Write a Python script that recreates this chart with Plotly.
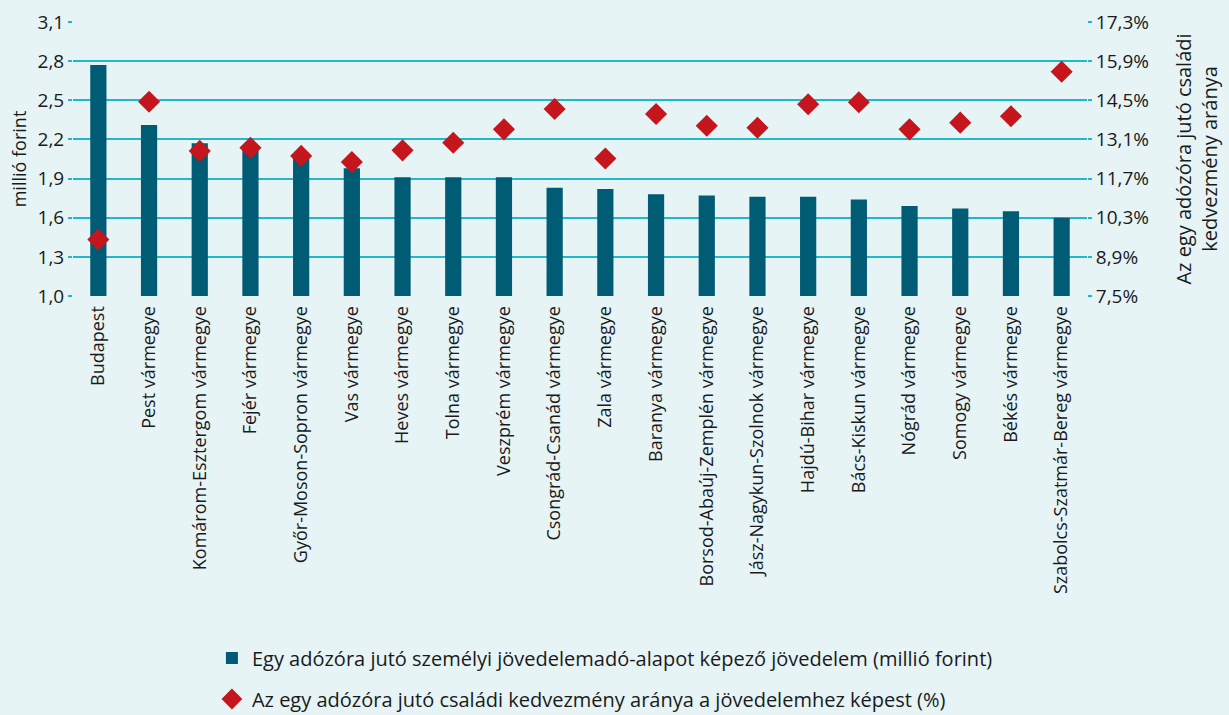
import plotly.graph_objects as go

categories = ["Budapest", "Pest vármegye", "Komárom-Esztergom vármegye", "Fejér vármegye",
              "Győr-Moson-Sopron vármegye", "Vas vármegye", "Heves vármegye", "Tolna vármegye",
              "Veszprém vármegye", "Csongrád-Csanád vármegye", "Zala vármegye", "Baranya vármegye",
              "Borsod-Abaúj-Zemplén vármegye", "Jász-Nagykun-Szolnok vármegye", "Hajdú-Bihar vármegye",
              "Bács-Kiskun vármegye", "Nógrád vármegye", "Somogy vármegye", "Békés vármegye",
              "Szabolcs-Szatmár-Bereg vármegye"]
income = [2.77, 2.31, 2.17, 2.15, 2.08, 1.98, 1.91, 1.91, 1.91, 1.83, 1.82, 1.78, 1.77, 1.76,
          1.76, 1.74, 1.69, 1.67, 1.65, 1.60]
benefit_pct = [9.52, 14.45, 12.69, 12.80, 12.51, 12.29, 12.71, 12.98, 13.46, 14.19, 12.42, 14.01,
               13.59, 13.52, 14.36, 14.43, 13.46, 13.70, 13.93, 15.52]
left_ticks = [1.0, 1.3, 1.6, 1.9, 2.2, 2.5, 2.8, 3.1]
left_labels = ["1,0", "1,3", "1,6", "1,9", "2,2", "2,5", "2,8", "3,1"]
right_ticks = [7.5, 8.9, 10.3, 11.7, 13.1, 14.5, 15.9, 17.3]
right_labels = ["7,5%", "8,9%", "10,3%", "11,7%", "13,1%", "14,5%", "15,9%", "17,3%"]

name_bar = "Egy adózóra jutó személyi jövedelemadó-alapot képező jövedelem (millió forint)"
name_pt = "Az egy adózóra jutó családi kedvezmény aránya a jövedelemhez képest (%)"

BG = "#e6f4f6"
GRID = "#22b8cc"
BAR = "#005b74"
RED = "#c4161c"
TXT = "#1a1a1a"
FONT = "Open Sans"

fig = go.Figure()
fig.add_trace(go.Bar(x=categories, y=income, name=name_bar, marker_color=BAR,
                     marker_line_width=0, width=0.32, legendgroup="a"))
fig.add_trace(go.Scatter(x=categories, y=benefit_pct, name=name_pt, mode="markers", yaxis="y2",
                         marker=dict(symbol="diamond", size=17, color=RED), legendgroup="b"))

fig.update_layout(
    width=1229, height=715,
    paper_bgcolor=BG, plot_bgcolor=BG,
    font=dict(family=FONT, size=18, color=TXT),
    margin=dict(l=73, r=142, t=22, b=419, autoexpand=False),
    showlegend=True,
    legend=dict(orientation="v", x=0.137, xanchor="left", y=-1.25, yanchor="top",
                font=dict(size=20, family=FONT, color=TXT), tracegroupgap=12,
                bgcolor="rgba(0,0,0,0)"),
    xaxis=dict(range=[-0.5, len(categories) - 0.5], tickangle=-90, showgrid=False, showline=False,
               ticks="outside", ticklen=2, tickcolor="rgba(0,0,0,0)", tickfont=dict(size=18),
               automargin=False),
    yaxis=dict(range=[1.0, 3.1], tickvals=left_ticks, ticktext=left_labels, showgrid=True,
               gridcolor=GRID, gridwidth=2, zeroline=False, ticks="outside", ticklen=4,
               tickcolor=GRID, tickwidth=2, tickfont=dict(size=19),
               title=dict(text="millió forint", font=dict(size=18), standoff=6), automargin=False),
    yaxis2=dict(range=[7.5, 17.3], tickvals=right_ticks, ticktext=right_labels, overlaying="y",
                side="right", showgrid=False, zeroline=False, ticks="outside", ticklen=4,
                tickcolor=GRID, tickwidth=2, tickfont=dict(size=19),
                title=dict(text="Az egy adózóra jutó családi<br>kedvezmény aránya", font=dict(size=20),
                           standoff=28), automargin=False),
)

fig.write_html("out.html", config={"displayModeBar": False},
               post_script="document.body.style.margin='0';")
